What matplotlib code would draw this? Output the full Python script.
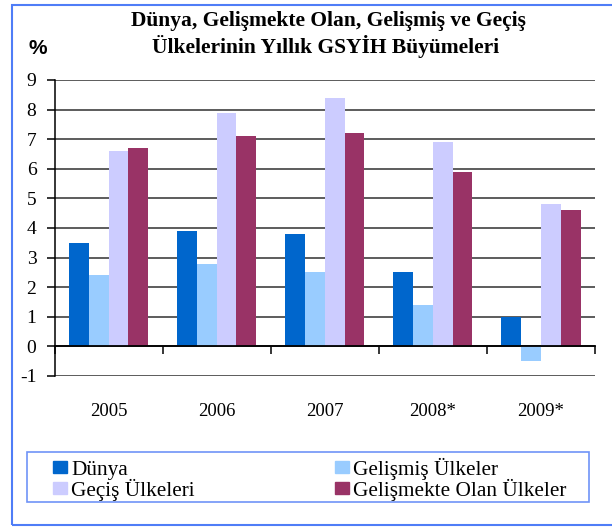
import numpy as np
import matplotlib
matplotlib.use('Agg')
import matplotlib.pyplot as plt
from matplotlib.patches import Rectangle, Patch

years = ['2005', '2006', '2007', '2008*', '2009*']
dunya = [3.5, 3.9, 3.8, 2.5, 1.0]
gelismis = [2.4, 2.8, 2.5, 1.4, -0.5]
gecis = [6.6, 7.9, 8.4, 6.9, 4.8]
gelismekte = [6.7, 7.1, 7.2, 5.9, 4.6]

series = [('Dünya', dunya, '#0066cc'),
          ('Gelişmiş Ülkeler', gelismis, '#99ccff'),
          ('Geçiş Ülkeleri', gecis, '#ccccff'),
          ('Gelişmekte Olan Ülkeler', gelismekte, '#993366')]

plt.rcParams['font.family'] = ['Liberation Serif', 'DejaVu Serif']

W, H = 612, 527
fig = plt.figure(figsize=(W / 100, H / 100), dpi=100)

# plot area in pixels: x 54.5..595, y 80..376
ax = fig.add_axes([54.5 / W, (H - 376) / H, (595 - 54.5) / W, (376 - 80) / H])

x = np.arange(len(years)) + 0.5
w = 0.183
for k, (name, vals, col) in enumerate(series):
    ax.bar(x + (k - 1.5) * w, vals, width=w, color=col, label=name, zorder=3)

ax.set_xlim(0, len(years))
ax.set_ylim(-1, 9)
ax.set_yticks(range(-1, 10))
ax.set_yticklabels([str(v) for v in range(-1, 10)], fontsize=14)
ax.yaxis.grid(True, color='#303030', linewidth=1.1, zorder=0)
ax.set_axisbelow(True)

for s in ['top', 'right']:
    ax.spines[s].set_visible(False)
ax.spines['left'].set_color('black')
ax.spines['left'].set_linewidth(1.1)
ax.spines['bottom'].set_position(('data', 0))
ax.spines['bottom'].set_color('black')
ax.spines['bottom'].set_linewidth(1.3)
ax.spines['bottom'].set_zorder(4)
ax.tick_params(axis='y', direction='out', length=6, width=1.1, pad=7)

ax.set_xticks(x)
ax.set_xticklabels(years, fontsize=13.5)
ax.set_xticks(np.arange(len(years) + 1), minor=True)
ax.tick_params(axis='x', which='major', length=0, pad=41)
ax.tick_params(axis='x', which='minor', direction='out', length=6, width=1.1)

fig.text(328 / W, 1 - 21 / H, 'Dünya, Gelişmekte Olan, Gelişmiş ve Geçiş',
         ha='center', va='center', fontsize=15.5, fontweight='bold')
fig.text(326 / W, 1 - 47 / H, 'Ülkelerinin Yıllık GSYİH Büyümeleri',
         ha='center', va='center', fontsize=15.5, fontweight='bold')
fig.text(38 / W, 1 - 48 / H, '%', ha='center', va='center',
         fontsize=15, fontweight='bold', family='Liberation Sans')

# legend: order fills column-wise -> Dünya/Geçiş, Gelişmiş/Gelişmekte
fs = 15.3
handles = [Patch(color=series[i][2], label=series[i][0]) for i in (0, 2, 1, 3)]


def make_legend(colsp):
    return fig.legend(handles=handles, ncol=2, loc='center left',
                      bbox_to_anchor=(53 / W, 1 - 479 / H), fontsize=fs,
                      frameon=False, handlelength=0.65, handleheight=0.55,
                      handletextpad=0.2, labelspacing=-0.05,
                      columnspacing=colsp, borderpad=0, borderaxespad=0)


leg = make_legend(5.0)
fig.canvas.draw()
r = fig.canvas.get_renderer()
x2 = leg.legend_handles[2].get_window_extent(r).x0
x0 = leg.legend_handles[0].get_window_extent(r).x0
shift = (335 - 53) - (x2 - x0)
leg.remove()
leg = make_legend(5.0 + shift / (fs * 100 / 72))

fig.patches.append(Rectangle((27 / W, (H - 502) / H), (589 - 27) / W, 50 / H,
                             transform=fig.transFigure, fill=False,
                             edgecolor='#6f94f7', linewidth=1.2))
fig.patches.append(Rectangle((12 / W, 2 / H), 1.0, (525 - 5) / H,
                             transform=fig.transFigure, fill=False,
                             edgecolor='#4f7df7', linewidth=1.5))

fig.savefig('out.png', dpi=100)
